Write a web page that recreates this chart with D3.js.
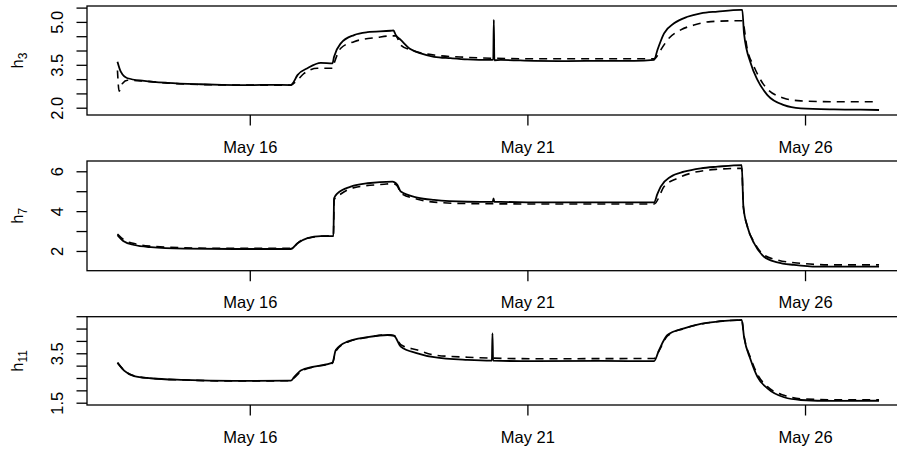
<!DOCTYPE html>
<html>
<head>
<meta charset="utf-8">
<script src="https://cdn.jsdelivr.net/npm/d3@7"></script>
<style>
  html, body { margin: 0; padding: 0; background: #fff; }
  svg { display: block; }
  text { font-family: "Liberation Sans", Arial, Helvetica, sans-serif; fill: #000; }
</style>
</head>
<body>
<svg id="chart" width="897" height="450"></svg>
<script>
// ---- data (time in fractional day of May, value) ----
const xTickDays = [16, 21, 26];

const h3Obs = [[13.617,3.61],[13.677,3.26],[13.798,3.03],[14.097,2.94],[14.518,2.87],[15.118,2.82],[15.5,2.80],[16.018,2.79],[16.4,2.80],[16.738,2.79],[16.769,2.84],[16.859,3.14],[17.039,3.38],[17.279,3.57],[17.489,3.55],[17.518,3.78],[17.639,4.25],[17.878,4.54],[18.120,4.64],[18.539,4.69],[18.588,4.70],[18.629,4.54],[18.719,4.37],[18.899,4.04],[19.079,3.90],[19.319,3.78],[19.620,3.73],[19.920,3.69],[20.340,3.67],[20.385,3.68],[20.395,5.07],[20.405,3.66],[20.520,3.67],[21.120,3.64],[21.721,3.63],[22.321,3.64],[22.921,3.64],[23.281,3.67],[23.342,4.02],[23.461,4.60],[23.641,4.95],[23.882,5.18],[24.122,5.30],[24.422,5.36],[24.842,5.42],[24.870,5.42],[24.901,4.60],[25.022,3.55],[25.143,2.97],[25.323,2.44],[25.622,2.09],[25.923,1.98],[26.522,1.94],[27.0,1.93],[27.333,1.92]];
const h3Fit = [[13.617,3.30],[13.647,2.58],[13.707,2.85],[13.798,2.96],[14.097,2.93],[14.518,2.86],[15.118,2.81],[16.018,2.79],[16.738,2.79],[16.859,2.97],[16.978,3.20],[17.219,3.38],[17.489,3.38],[17.518,3.55],[17.639,4.08],[17.878,4.31],[18.300,4.46],[18.539,4.51],[18.629,4.51],[18.719,4.19],[18.899,4.02],[19.319,3.84],[19.920,3.76],[20.340,3.73],[21.120,3.71],[22.321,3.71],[23.281,3.71],[23.401,4.02],[23.522,4.37],[23.762,4.72],[24.001,4.89],[24.302,5.01],[24.842,5.04],[24.870,5.04],[24.963,4.02],[25.082,3.43],[25.262,2.79],[25.622,2.33],[25.923,2.24],[26.522,2.21],[27.243,2.21]];

const h7Obs = [[13.617,2.80],[13.737,2.47],[13.916,2.30],[14.217,2.19],[14.817,2.12],[15.717,2.10],[16.738,2.10],[16.859,2.39],[17.039,2.64],[17.279,2.75],[17.507,2.75],[17.518,4.64],[17.579,4.89],[17.819,5.23],[18.120,5.40],[18.570,5.48],[18.660,5.31],[18.719,4.98],[19.020,4.68],[19.319,4.56],[19.920,4.47],[20.375,4.46],[20.390,4.64],[20.405,4.46],[20.520,4.46],[21.120,4.44],[22.321,4.44],[23.281,4.44],[23.340,4.85],[23.401,5.23],[23.581,5.73],[23.821,5.98],[24.122,6.15],[24.422,6.23],[24.860,6.31],[24.890,4.22],[24.963,3.22],[25.082,2.39],[25.262,1.71],[25.503,1.43],[25.802,1.30],[26.224,1.21],[27.333,1.21]];
const h7Fit = [[13.617,2.85],[13.737,2.55],[13.916,2.37],[14.217,2.24],[14.817,2.16],[15.717,2.13],[16.738,2.13],[16.918,2.52],[17.158,2.70],[17.507,2.80],[17.518,4.56],[17.639,4.86],[17.878,5.18],[18.419,5.35],[18.588,5.38],[18.660,5.25],[18.719,4.90],[19.020,4.60],[19.319,4.45],[19.920,4.38],[21.120,4.36],[23.281,4.36],[23.461,5.23],[23.702,5.65],[23.942,5.90],[24.422,6.10],[24.860,6.15],[24.890,4.22],[24.963,3.22],[25.082,2.45],[25.262,1.80],[25.503,1.55],[25.923,1.38],[26.522,1.30],[27.333,1.30]];

const h11Obs = [[13.617,3.12],[13.737,2.80],[13.916,2.58],[14.217,2.49],[14.817,2.42],[15.717,2.38],[16.738,2.39],[16.798,2.53],[16.918,2.80],[17.158,2.96],[17.489,3.12],[17.549,3.63],[17.759,3.97],[18.120,4.15],[18.480,4.24],[18.599,4.20],[18.719,3.77],[19.020,3.50],[19.319,3.34],[19.920,3.23],[20.360,3.20],[20.371,4.31],[20.382,3.20],[21.120,3.18],[22.321,3.19],[23.281,3.18],[23.371,3.63],[23.522,4.24],[23.821,4.51],[24.122,4.69],[24.422,4.78],[24.860,4.85],[24.901,4.17],[25.022,3.23],[25.143,2.55],[25.323,2.08],[25.622,1.72],[25.923,1.61],[26.522,1.57],[27.333,1.58]];
const h11Fit = [[13.617,3.12],[13.737,2.81],[13.916,2.59],[14.217,2.49],[14.817,2.42],[15.717,2.38],[16.738,2.39],[16.798,2.50],[16.918,2.76],[17.158,2.95],[17.489,3.10],[17.549,3.58],[17.759,3.95],[18.120,4.14],[18.480,4.25],[18.599,4.22],[18.719,3.85],[19.020,3.63],[19.319,3.43],[19.920,3.34],[21.120,3.28],[23.281,3.29],[23.371,3.60],[23.522,4.20],[23.821,4.50],[24.122,4.68],[24.860,4.84],[24.901,4.20],[25.022,3.30],[25.143,2.65],[25.323,2.15],[25.622,1.80],[25.923,1.66],[26.522,1.62],[27.333,1.62]];

const panelNames = ["3", "7", "11"];
const yTicks3 = [2.0, 2.5, 3.0, 3.5, 4.0, 4.5, 5.0, 5.5];
const yLabels3 = [2.0, 3.5, 5.0];
const yTicks7 = [2, 3, 4, 5, 6];
const yLabels7 = [2, 4, 6];
const yTicks11 = [1.5, 2.0, 2.5, 3.0, 3.5, 4.0, 4.5, 5.0];
const yLabels11 = [1.5, 3.5];
const yLimits = [[1.745, 5.556], [1.01, 6.516], [1.407, 4.98]];

// ---- drawing ----
const toDate = d => new Date(Date.UTC(2010, 4, 1) + (d - 1) * 864e5);
const svg = d3.select("#chart");
const left = 87, right = 909.5;
const panels = [
  {obs: h3Obs, fit: h3Fit, ticks: yTicks3, labels: yLabels3, fmt: d3.format(".1f"), top: 6, bottom: 115},
  {obs: h7Obs, fit: h7Fit, ticks: yTicks7, labels: yLabels7, fmt: d3.format("d"), top: 161, bottom: 270.7},
  {obs: h11Obs, fit: h11Fit, ticks: yTicks11, labels: yLabels11, fmt: d3.format(".1f"), top: 316.7, bottom: 405}
];

const allT = [].concat(...panels.map(p => p.obs.concat(p.fit).map(d => d[0])));
const [t0, t1] = d3.extent(allT);
const pad = (t1 - t0) * 0.04;
const x = d3.scaleUtc().domain([toDate(t0 - pad), toDate(t1 + pad)]).range([left, right]);

panels.forEach((p, i) => {
  const y = d3.scaleLinear().domain(yLimits[i]).range([p.bottom, p.top]);
  const g = svg.append("g");

  const line = d3.line().x(d => x(toDate(d[0]))).y(d => y(d[1])).curve(d3.curveMonotoneX);

  g.append("path").datum(p.fit).attr("d", line)
    .attr("fill", "none").attr("stroke", "#000").attr("stroke-width", 1.6)
    .attr("stroke-dasharray", "8,6");
  g.append("path").datum(p.obs).attr("d", line)
    .attr("fill", "none").attr("stroke", "#000").attr("stroke-width", 1.8)
    .attr("stroke-linejoin", "round");

  // box
  g.append("rect").attr("x", left).attr("y", p.top)
    .attr("width", right - left).attr("height", p.bottom - p.top)
    .attr("fill", "none").attr("stroke", "#000").attr("stroke-width", 1.3);

  // x axis
  const xa = g.append("g").attr("transform", `translate(0,${p.bottom})`)
    .call(d3.axisBottom(x).tickValues(xTickDays.map(toDate))
      .tickFormat(d3.utcFormat("%b %-d")).tickSize(10.5).tickPadding(15.5));
  xa.select(".domain").remove();
  xa.selectAll("line").attr("stroke", "#000").attr("stroke-width", 1.3);
  xa.selectAll("text").attr("font-size", 16.5).attr("font-family", "Liberation Sans, Arial, sans-serif").attr("fill", "#000");

  // y axis
  const ya = g.append("g").attr("transform", `translate(${left},0)`)
    .call(d3.axisLeft(y).tickValues(p.ticks)
      .tickFormat(v => p.labels.some(l => Math.abs(l - v) < 1e-9) ? p.fmt(v) : "")
      .tickSize(10.5));
  ya.select(".domain").remove();
  ya.selectAll("line").attr("stroke", "#000").attr("stroke-width", 1.3);
  ya.selectAll("text")
    .attr("x", 0).attr("dy", 0).attr("text-anchor", "middle")
    .attr("transform", "translate(-24,0) rotate(-90)")
    .attr("font-size", 16.5).attr("font-family", "Liberation Sans, Arial, sans-serif").attr("fill", "#000");

  // y title
  const cy = (p.top + p.bottom) / 2;
  const t = g.append("text").attr("transform", `translate(23,${cy}) rotate(-90)`)
    .attr("text-anchor", "middle").attr("font-size", 16.5);
  t.append("tspan").text("h");
  t.append("tspan").attr("font-size", 12).attr("dy", 4).text(panelNames[i]);
});
</script>
</body>
</html>
